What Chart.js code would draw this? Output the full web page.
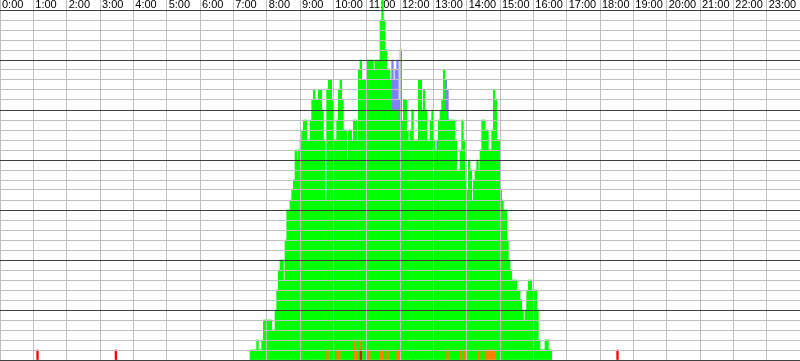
<!DOCTYPE html>
<html>
<head>
<meta charset="utf-8">
<script src="https://cdn.jsdelivr.net/npm/chart.js@4"></script>
<style>
  html, body { margin: 0; padding: 0; background: #fff; }
  canvas { display: block; }
</style>
</head>
<body>
<canvas id="grafico" width="800" height="361"></canvas>
<script>
// counts per 3-minute bin, 20 bins per hour
const binMinutes = 3;
const green07 = [0,0,0,0,0,0,0,0,0,0,1,1,1,1,2,1,1,2,4,4];
const green08 = [4,4,4,3,3,5,7,9,10,10,8,12,15,15,16,17,18,21,20,21];
const green09 = [22,23,24,24,22,22,24,26,27,26,26,27,27,25,22,16,26,28,28,26];
const green10 = [22,22,23,26,28,26,23,23,20,23,23,22,22,23,22,29,28,28,28,28];
const green11 = [30,29,30,30,29,30,30,30,33,35,34,31,28,29,28,25,25,25,24,23];
const green12 = [25,24,26,26,23,22,23,25,22,22,22,28,28,25,27,25,22,22,24,25];
const green13 = [22,21,19,24,25,26,29,25,23,24,24,24,24,22,19,19,20,24,21,18];
const green14 = [17,20,19,16,18,19,20,18,21,24,24,22,23,20,20,22,26,26,22,22];
const green15 = [17,16,15,15,12,10,9,8,8,8,7,7,6,5,4,5,7,8,8,7];
const green16 = [7,7,5,2,1,1,1,2,2,1,1,0,0,0,0,0,0,0,0,0];
const greenHours = [7, 8, 9, 10, 11, 12, 13, 14, 15, 16];
const greenByHour = [green07, green08, green09, green10, green11, green12, green13, green14, green15, green16];

const blueTimes  = ['11:45','11:48','11:51','11:54','11:57','12:00','13:06','13:21','13:24'];
const blueValues = [5, 3, 4, 5, 2, 6, 3, 3, 3];

const orangeTimes  = ['9:48','10:06','10:09','10:36','10:39','10:48','11:03','11:24','11:27','11:36',
                      '11:54','11:57','13:24','13:48','13:54','14:21','14:33','14:39','14:42','14:45','14:48'];
const orangeValues = [1,1,1,2,1,1,1,1,1,1,1,1,1,1,1,1,1,1,1,1,1];

const redTimes  = ['1:06','3:27','10:48','18:30'];
const redValues = [1, 1, 1, 1];

const hourTicks = 60;

function toMinutes(t) {
  const [h, m] = t.split(':').map(Number);
  return h * 60 + m;
}
function sparse(times, values) {
  return times.map((t, i) => ({ x: toMinutes(t) + binMinutes / 2, y: values[i] }));
}

const greenPoints = [];
greenHours.forEach((h, j) => {
  greenByHour[j].forEach((v, k) => {
    if (v > 0) greenPoints.push({ x: h * 60 + k * binMinutes + binMinutes / 2, y: v });
  });
});

const fuente = 'Liberation Sans, Arial, sans-serif';

const ctx = document.getElementById('grafico').getContext('2d');
new Chart(ctx, {
  type: 'bar',
  data: {
    datasets: [
      { label: 'red', data: sparse(redTimes, redValues), backgroundColor: '#ff0000' },
      { label: 'orange', data: sparse(orangeTimes, orangeValues), backgroundColor: '#ff8000' },
      { label: 'green', data: greenPoints, backgroundColor: '#00ff00' },
      { label: 'blue', data: sparse(blueTimes, blueValues), backgroundColor: '#8080ff' }
    ]
  },
  options: {
    responsive: false,
    animation: false,
    layout: { padding: { top: 0, left: 0, right: 0, bottom: 1 } },
    plugins: { legend: { display: false }, tooltip: { enabled: false } },
    datasets: {
      bar: { barPercentage: 1, categoryPercentage: 1, borderWidth: 0, clip: false }
    },
    scales: {
      x: {
        type: 'linear',
        position: 'top',
        min: 0,
        max: 1440,
        offset: false,
        stacked: true,
        afterFit: (s) => { s.height = 10; },
        border: { display: false },
        grid: { z: 1, color: '#c0c0c0', lineWidth: 1, drawTicks: true, tickLength: 10, offset: false },
        ticks: {
          stepSize: hourTicks,
          autoSkip: false,
          maxRotation: 0,
          minRotation: 0,
          align: 'start',
          labelOffset: 2,
          padding: -10,
          color: '#000',
          font: { family: fuente, size: 11, lineHeight: '10px' },
          callback: (v) => v < 1440 ? (v / 60) + ':00' : ''
        }
      },
      y: {
        min: 0,
        max: 35,
        stacked: true,
        afterFit: (s) => { s.width = 0; },
        border: { display: false },
        grid: {
          z: 1,
          drawTicks: false,
          color: (c) => c.tick && c.tick.value % 5 === 0 ? '#404040' : '#c0c0c0'
        },
        ticks: { display: false, stepSize: 1 }
      }
    }
  }
});
</script>
</body>
</html>
